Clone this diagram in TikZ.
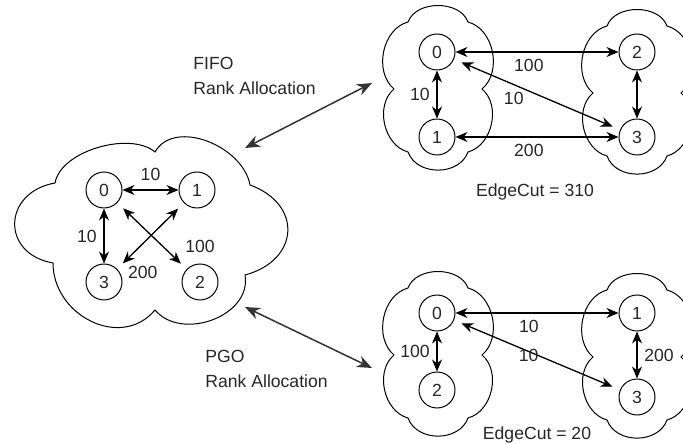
\documentclass[tikz,border=0pt]{standalone}
\usepackage{fontspec}
\setmainfont{Liberation Sans}
\usepackage{tikz}
\usetikzlibrary{arrows.meta, positioning}

\tikzset{
    vertex/.style = {circle, draw, minimum size=18pt, inner sep=0pt, line width=0.5pt},
    link/.style = {<->, line width=0.65pt, >={Stealth[length=6pt,width=5pt]}},
    diag/.style = {shorten <=4pt, shorten >=4pt},
    bigarrow/.style = {<->, line width=0.75pt, draw=black!80, >={Stealth[length=7.5pt,width=6pt]}},
    caption/.style = {align=left, inner sep=0pt},
    pics/smallcloud/.style = {code={
        \draw[line width=0.5pt] (-30,67) to[out=70,in=110] (30,67)
            to[out=-15,in=40] (44,0)
            to[out=-40,in=15] (30,-63)
            to[out=-110,in=-70,looseness=1.1] (-30,-63)
            to[out=165,in=220] (-44,0)
            to[out=140,in=195] (-30,67) -- cycle;
    }}
}

\begin{document}
\begin{tikzpicture}[
            x = 0.5pt,
            y = 0.5pt,
            on grid,
            every node/.style = {font=\fontsize{8.8}{12.5}\selectfont, text=black!85}
        ]
        \useasboundingbox (0,0) rectangle (683,443);
        \clip (0,0) rectangle (683,443);

        % clouds
        \draw[line width=0.5pt] (55,260) to[out=80,in=140,looseness=0.8] (155,291)
            to[out=60,in=100] (250,258)
            to[out=-20,in=15,looseness=1.6] (245,168)
            to[out=-80,in=-50,looseness=1.1] (155,133)
            to[out=-130,in=-90,looseness=1.2] (53,180)
            to[out=170,in=190,looseness=1.7] (55,260) -- cycle;
        \pic at (438,354) {smallcloud};
        \pic at (637,350) {smallcloud};
        \pic at (438,88) {smallcloud};
        \pic at (637,86) {smallcloud};

        % original graph
        \node[vertex] (b0) at (104,253) {0};
        \node[vertex, right=46.5pt of b0] (b1) {1};
        \node[vertex, below=46pt of b0] (b3) {3};
        \node[vertex, right=48pt of b3] (b2) {2};

        \path (b0) edge[link] node[above=1pt] {10} (b1)
                   edge[link] node[left] {10} (b3)
                   edge[link, diag] node[pos=0.79, above right=0pt, xshift=3pt, yshift=-2.5pt] {100} (b2)
              (b1) edge[link, diag] node[pos=0.9, right=2pt, xshift=-3.5pt, yshift=-5pt] {200} (b3);

        % FIFO
        \node[vertex] (t0) at (437,391) {0};
        \node[vertex, below=42.5pt of t0] (t1) {1};
        \node[vertex, right=100pt of t0] (t2) {2};
        \node[vertex, right=100pt of t1] (t3) {3};

        \path (t0) edge[link] node[below, pos=0.45] {100} (t2)
                   edge[link, diag] node[below, pos=0.36] {10} (t3)
                   edge[link] node[left] {10} (t1)
              (t1) edge[link] node[below, pos=0.45] {200} (t3)
              (t2) edge[link] (t3);

        % PGO
        \node[vertex] (p0) at (437,130) {0};
        \node[vertex, below=38.5pt of p0] (p2) {2};
        \node[vertex, right=100pt of p0] (p1) {1};
        \node[vertex, below=42pt of p1] (p3) {3};

        \path (p0) edge[link] node[below, pos=0.45] {10} (p1)
                   edge[link, diag] node[below=-5pt, pos=0.45] {10} (p3)
                   edge[link] node[left] {100} (p2)
              (p1) edge[link] node[right] {200} (p3);

        % rank allocation
        \coordinate (fifoA) at (245,295);
        \coordinate (fifoB) at (372,360);
        \coordinate (pgoA) at (245,136);
        \coordinate (pgoB) at (372,75);
        \draw[bigarrow] (fifoA) -- (fifoB);
        \draw[bigarrow] (pgoA) -- (pgoB);

        \node[caption, anchor=west] (fifo) at (193,367.5) {FIFO\\Rank Allocation};
        \node[caption, anchor=west] (pgo) at (205,74.5) {PGO\\Rank Allocation};
        \node (cut1) at (535,251) {EdgeCut = 310};
        \node (cut2) at (537,8) {EdgeCut = 20};
    \end{tikzpicture}
\end{document}
